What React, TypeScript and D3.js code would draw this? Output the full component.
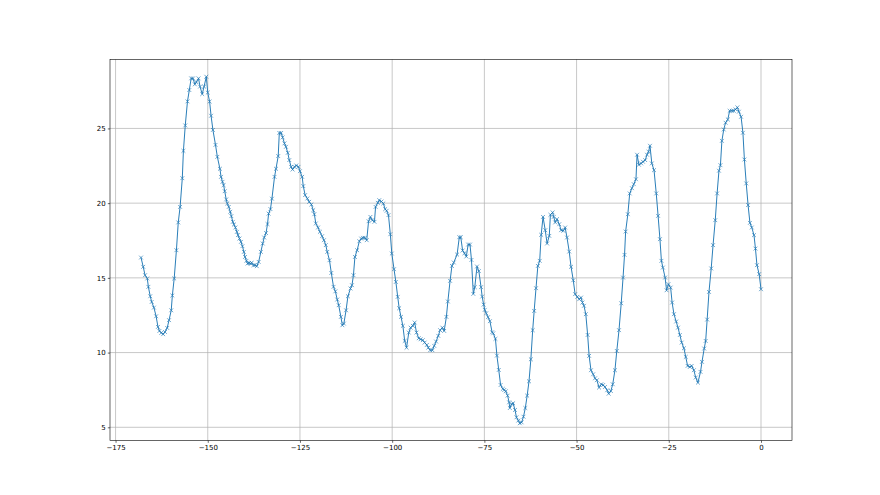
import { useEffect, useRef } from 'react'
import * as d3 from 'd3'

// hours before now (x) and readings (y)
const hours = [
  -168.1, -167.5, -167.0, -166.4, -166.1, -165.6, -165.2, -164.6, -164.0, -163.5,
  -163.1, -162.6, -162.1, -161.6, -161.0, -160.5, -159.9, -159.6, -159.1, -158.5,
  -158.0, -157.5, -156.9, -156.6, -156.1, -155.5, -155.0, -154.5, -154.0, -153.5,
  -153.1, -152.5, -152.1, -151.5, -151.0, -150.4, -150.0, -149.5,
  -149.1, -148.6, -147.9, -147.4, -146.7, -146.4, -146.0, -145.7, -145.4, -145.0,
  -144.7, -144.3, -143.9, -143.6, -143.2, -142.9, -142.5, -142.1, -141.8, -141.4,
  -141.0, -140.6, -140.2, -139.9, -139.5, -139.2, -138.8, -138.4, -138.1, -137.6,
  -137.2, -136.7, -136.2, -135.6, -135.1, -134.7, -134.2, -133.8, -133.5, -133.0,
  -132.6, -131.9, -131.5, -130.9, -130.6, -130.1, -129.7, -129.2, -128.8, -128.3,
  -127.9, -127.4, -127.0, -126.5, -126.0, -125.4, -125.0,
  -124.4, -124.1, -123.6, -123.0, -122.5, -121.9, -121.4, -121.1, -120.7, -120.1,
  -119.6, -119.0, -118.5, -118.0, -117.6, -117.0, -116.5, -115.9, -115.4, -114.9,
  -114.5, -113.9, -113.5, -113.1, -112.5, -112.0, -111.3, -110.9, -110.5, -110.1,
  -109.5, -108.9, -108.4, -107.9, -107.4, -106.9, -106.4, -105.9, -105.4, -104.8,
  -104.5, -103.9,
  -103.5, -102.9, -102.4, -101.9, -101.5, -101.0, -100.5, -100.1, -99.5, -99.0,
  -98.5, -98.1, -97.6, -97.1, -96.6, -96.1, -95.5, -95.0, -94.4, -93.9,
  -93.4, -92.8, -92.3, -91.7, -91.2, -90.6, -90.2, -89.7, -89.1, -88.6,
  -88.1, -87.5, -87.0, -86.4, -85.9, -85.3, -84.9, -84.3, -83.8, -83.3,
  -82.4, -81.8, -81.4, -80.9, -80.4, -79.9, -79.4, -78.9, -78.5, -78.0,
  -77.6, -77.0, -76.5, -75.9, -75.6, -75.2, -74.9, -74.5, -74.0, -73.5,
  -72.9, -72.6, -72.0, -71.6, -71.1, -70.6, -70.0, -69.6, -69.2, -68.7,
  -68.3, -68.1, -67.6, -67.2, -66.7, -66.3, -65.8, -65.4, -64.9, -64.4,
  -63.9, -63.4, -62.9,
  -62.4, -61.9, -61.5, -61.0, -60.5, -60.0, -59.6, -59.1, -58.5, -58.0,
  -57.4, -57.1, -56.5, -56.2, -55.8, -55.3, -54.7, -54.2, -53.6, -53.1,
  -52.6, -52.0, -51.5, -50.9, -50.4, -49.8, -49.3, -48.8, -48.4, -48.0,
  -47.5, -47.0, -46.6, -46.1, -45.5, -45.0, -44.5, -43.9, -43.3, -42.8,
  -42.3, -41.7, -41.3, -40.7,
  -40.2, -39.6, -39.1, -38.5, -37.9, -37.4, -37.0, -36.7, -36.1, -35.6,
  -35.0, -34.5, -33.9, -33.6, -33.1, -32.5, -32.0, -31.4, -30.9, -30.5,
  -30.1, -29.6, -29.0, -28.4, -27.9, -27.4, -27.0, -26.6, -26.0, -25.6,
  -25.1, -24.5, -24.1, -23.6, -23.0, -22.5, -22.0, -21.5, -20.9, -20.4,
  -19.9, -19.3, -18.8, -18.2, -17.7, -17.1,
  -16.4, -16.0, -15.4, -15.0, -14.6, -14.1, -13.5, -13.0, -12.4, -11.9,
  -11.4, -11.0, -10.6, -10.1, -9.6, -9.0, -8.5, -7.9, -7.4, -6.9,
  -6.4, -6.0, -5.4, -4.9, -4.5, -4.0, -3.5, -3.0, -2.5, -1.9,
  -1.5, -1.1, -0.5, 0.0
]

const temps = [
  16.36, 15.74, 15.18, 14.96, 14.40, 13.77, 13.39, 13.01, 12.43, 11.72,
  11.45, 11.32, 11.23, 11.38, 11.65, 12.17, 12.83, 13.82, 14.96, 16.85,
  18.71, 19.75, 21.67, 23.50, 25.20, 26.81, 27.57, 28.35, 28.35, 27.95,
  28.10, 28.35, 27.80, 27.30, 27.80, 28.46, 27.40, 26.80,
  25.85, 24.90, 23.90, 23.10, 22.30, 21.76, 21.43, 21.20, 20.80, 20.25,
  19.98, 19.75, 19.42, 19.13, 18.75, 18.57, 18.37, 18.08, 17.86, 17.63,
  17.41, 17.12, 16.74, 16.40, 16.14, 15.96, 16.00, 15.96, 16.00, 15.85,
  15.85, 15.78, 16.07, 16.74, 17.30, 17.70, 18.00, 18.60, 19.30, 19.60,
  20.30, 21.76, 22.30, 23.15, 24.70, 24.70, 24.40, 24.00, 23.77, 23.37,
  22.88, 22.43, 22.25, 22.43, 22.52, 22.43, 22.14,
  21.76, 21.14, 20.54, 20.31, 20.09, 19.91, 19.53, 19.26, 18.64, 18.37,
  18.08, 17.79, 17.52, 17.19, 16.74, 16.18, 15.33, 14.40, 14.10, 13.55,
  13.17, 12.39, 11.83, 11.94, 12.83, 13.77, 14.29, 14.51, 15.18, 16.40,
  16.85, 17.45, 17.63, 17.68, 17.68, 17.52, 18.79, 19.08, 18.86, 18.75,
  19.75, 20.02,
  20.20, 20.11, 19.98, 19.60, 19.49, 19.20, 17.92, 16.63, 15.58, 14.73,
  13.73, 12.97, 12.39, 11.79, 10.78, 10.33, 11.34, 11.67, 11.79, 12.01,
  11.34, 10.96, 10.89, 10.83, 10.67, 10.51, 10.33, 10.16, 10.16, 10.45,
  10.74, 11.12, 11.50, 11.67, 11.45, 12.39, 13.42, 14.80, 15.80, 16.03,
  16.56, 17.72, 17.72, 16.83, 16.65, 16.43, 17.23, 17.23, 16.20, 13.93,
  14.38, 15.76, 15.45, 14.38, 13.75, 13.21, 12.86, 12.63, 12.37, 12.10,
  11.36, 11.29, 10.92, 9.80, 8.84, 7.83, 7.57, 7.50, 7.41, 7.12,
  6.67, 6.29, 6.56, 6.61, 6.16, 5.67, 5.45, 5.27, 5.33, 5.71,
  6.29, 7.12, 8.08,
  9.55, 11.50, 12.79, 14.31, 15.80, 16.14, 17.88, 19.08, 18.19, 17.30,
  17.81, 19.22, 19.38, 19.08, 18.71, 18.93, 18.59, 18.19, 18.15, 18.37,
  17.70, 16.76, 15.74, 14.84, 13.91, 13.73, 13.57, 13.68, 13.35, 13.13,
  12.57, 11.18, 9.78, 8.82, 8.55, 8.28, 8.15, 7.66, 7.88, 7.83,
  7.70, 7.48, 7.25, 7.43,
  7.88, 8.82, 10.11, 11.50, 13.30, 15.02, 16.54, 18.10, 19.26, 20.65,
  21.00, 21.27, 21.60, 23.24, 22.57, 22.66, 22.77, 22.88, 23.24, 23.44,
  23.84, 22.66, 22.21, 20.65, 19.15, 17.59, 16.14, 15.69, 15.02, 14.17,
  14.58, 14.35, 13.35, 12.57, 12.08, 11.67, 11.18, 10.67, 10.29, 9.71,
  9.11, 9.04, 9.11, 8.82, 8.33, 7.99,
  8.71, 9.38, 10.27, 10.78, 12.21, 14.06, 15.63, 17.19, 18.86, 20.65,
  22.17, 22.54, 24.17, 24.93, 25.38, 25.60, 26.18, 26.18, 26.18, 26.27,
  26.41, 26.12, 25.78, 24.71, 22.92, 21.32, 19.87, 18.68, 18.37, 17.86,
  16.96, 15.85, 15.25, 14.24
]

const xTicks = [-175, -150, -125, -100, -75, -50, -25, 0]
const yTicks = [5, 10, 15, 20, 25]

const WIDTH = 880
const HEIGHT = 495
const margin = { top: 59.4, right: 88, bottom: 54.4, left: 110 }
const BLUE = '#1f77b4'

// matplotlib style 5% margins
const padded = (vals: number[]) => {
  const [lo, hi] = d3.extent(vals) as [number, number]
  const m = (hi - lo) * 0.05
  return [lo - m, hi + m]
}

const fmt = (d: number) => (d < 0 ? '\u2212' + Math.abs(d) : String(d))

export default function App() {
  const svgRef = useRef<SVGSVGElement>(null)

  useEffect(() => {
    const svg = d3.select(svgRef.current)
    svg.selectAll('*').remove()

    const x0 = margin.left
    const x1 = WIDTH - margin.right
    const y0 = HEIGHT - margin.bottom
    const y1 = margin.top

    const xScale = d3.scaleLinear(padded(hours), [x0, x1])
    const yScale = d3.scaleLinear(padded(temps), [y0, y1])

    const points = hours.map((h, i) => [h, temps[i]] as [number, number])

    // grid lines
    const grid = svg.append('g').attr('class', 'grid')
    grid.selectAll('.gx')
      .data(xTicks)
      .join('line')
      .attr('x1', d => xScale(d)).attr('x2', d => xScale(d))
      .attr('y1', y1).attr('y2', y0)
    grid.selectAll('.gy')
      .data(yTicks)
      .join('line')
      .attr('x1', x0).attr('x2', x1)
      .attr('y1', d => yScale(d)).attr('y2', d => yScale(d))
    grid.selectAll('line')
      .attr('stroke', '#b0b0b0')
      .attr('stroke-width', 0.7)

    // the series line
    const line = d3.line<[number, number]>()
      .x(d => xScale(d[0]))
      .y(d => yScale(d[1]))
    svg.append('path')
      .datum(points)
      .attr('d', line)
      .attr('fill', 'none')
      .attr('stroke', BLUE)
      .attr('stroke-width', 0.95)

    // 'x' markers
    const r = 1.9
    svg.append('g')
      .selectAll('path')
      .data(points)
      .join('path')
      .attr('transform', d => `translate(${xScale(d[0])},${yScale(d[1])})`)
      .attr('d', `M${-r},${-r}L${r},${r}M${-r},${r}L${r},${-r}`)
      .attr('fill', 'none')
      .attr('stroke', BLUE)
      .attr('stroke-width', 0.65)

    // axes
    const xAxis = d3.axisBottom(xScale)
      .tickValues(xTicks)
      .tickSize(2.2)
      .tickSizeOuter(0)
      .tickPadding(2.2)
      .tickFormat(d => fmt(+d))
    svg.append('g')
      .attr('class', 'x-axis')
      .attr('transform', `translate(0,${y0})`)
      .call(xAxis)

    const yAxis = d3.axisLeft(yScale)
      .tickValues(yTicks)
      .tickSize(2.2)
      .tickSizeOuter(0)
      .tickPadding(2.2)
      .tickFormat(d => fmt(+d))
    svg.append('g')
      .attr('class', 'y-axis')
      .attr('transform', `translate(${x0},0)`)
      .call(yAxis)

    svg.selectAll('.x-axis > path, .y-axis > path').remove()
    svg.selectAll('.tick line')
      .attr('stroke', '#000')
      .attr('stroke-width', 0.6)
    svg.selectAll('.tick text')
      .attr('fill', '#000')
      .style('font-family', '"DejaVu Sans", sans-serif')
      .style('font-size', '7px')

    // frame
    svg.append('rect')
      .attr('x', x0).attr('y', y1)
      .attr('width', x1 - x0).attr('height', y0 - y1)
      .attr('fill', 'none')
      .attr('stroke', '#000')
      .attr('stroke-width', 0.6)
  }, [])

  return (
    <svg
      ref={svgRef}
      width={WIDTH}
      height={HEIGHT}
      style={{ position: 'absolute', left: 0, top: 0, background: '#fff' }}
    />
  )
}
